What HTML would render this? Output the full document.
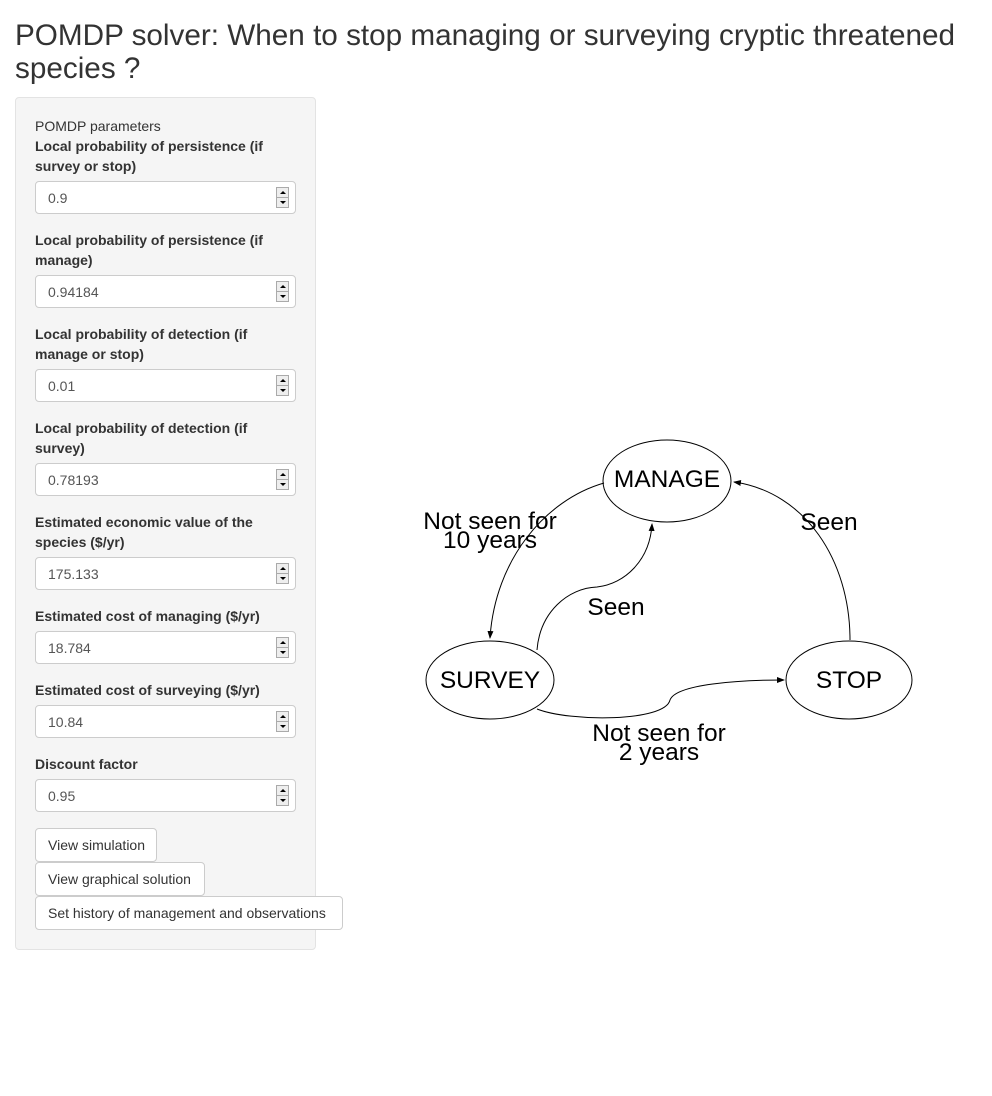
<!DOCTYPE html>
<html><head><meta charset="utf-8"><style>
body{margin:0;width:992px;height:1096px;background:#fff;font-family:"Liberation Sans",Arial,sans-serif;color:#333;position:relative;overflow:hidden}
.t{position:absolute;left:15px;top:19px;font-size:29.7px;line-height:33px;color:#333;width:975px;white-space:nowrap}
.panel{position:absolute;left:15px;top:97px;width:301px;height:853px;background:#f5f5f5;border:1px solid #e3e3e3;border-radius:4px;box-sizing:border-box}
.a{position:absolute;left:35px;font-size:14px;line-height:20px;color:#333}
.lb{position:absolute;left:35px;font-size:14px;font-weight:bold;line-height:20px;color:#333;white-space:nowrap}
.in{position:absolute;left:35px;width:261px;height:33px;background:#fff;border:1px solid #ccc;border-radius:4px;box-sizing:border-box;font-size:14px;color:#555;padding:8px 12px;line-height:16px}
.sp{position:absolute;right:6px;top:5px;width:13px;height:21px;border:1px solid #aaa;background:#eee;box-sizing:border-box}
.sp:before{content:"";position:absolute;left:3px;top:3px;border:3px solid transparent;border-bottom:3px solid #000;border-top:0}
.sp:after{content:"";position:absolute;left:3px;top:13px;border:3px solid transparent;border-top:3px solid #000;border-bottom:0}
.sp i{position:absolute;left:0;right:0;top:9px;border-top:1px solid #aaa}
.b{position:absolute;left:35px;height:34px;background:#fff;border:1px solid #ccc;border-radius:4px;box-sizing:border-box;font-size:14px;color:#333;padding:0 12px;line-height:32px;white-space:nowrap}
</style></head><body>
<div class="t">POMDP solver: When to stop managing or surveying cryptic threatened<br>species ?</div>
<div class="panel"></div>
<div class="a" style="top:116px">POMDP parameters</div>
<div class="lb" style="top:136px">Local probability of persistence (if<br>survey or stop)</div>
<div class="in" style="top:181px">0.9<div class="sp"><i></i></div></div>
<div class="lb" style="top:230px">Local probability of persistence (if<br>manage)</div>
<div class="in" style="top:275px">0.94184<div class="sp"><i></i></div></div>
<div class="lb" style="top:324px">Local probability of detection (if<br>manage or stop)</div>
<div class="in" style="top:369px">0.01<div class="sp"><i></i></div></div>
<div class="lb" style="top:418px">Local probability of detection (if<br>survey)</div>
<div class="in" style="top:463px">0.78193<div class="sp"><i></i></div></div>
<div class="lb" style="top:512px">Estimated economic value of the<br>species ($/yr)</div>
<div class="in" style="top:557px">175.133<div class="sp"><i></i></div></div>
<div class="lb" style="top:606px">Estimated cost of managing ($/yr)</div>
<div class="in" style="top:631px">18.784<div class="sp"><i></i></div></div>
<div class="lb" style="top:680px">Estimated cost of surveying ($/yr)</div>
<div class="in" style="top:705px">10.84<div class="sp"><i></i></div></div>
<div class="lb" style="top:754px">Discount factor</div>
<div class="in" style="top:779px">0.95<div class="sp"><i></i></div></div>
<div class="b" style="top:828px;width:122px">View simulation</div>
<div class="b" style="top:862px;width:170px">View graphical solution</div>
<div class="b" style="top:896px;width:308px">Set history of management and observations</div>
<svg width="992" height="1096" style="position:absolute;left:0;top:0" font-family="Liberation Sans, Arial, sans-serif">
<defs><marker id="m" markerWidth="8" markerHeight="6" refX="7" refY="3" orient="auto" markerUnits="userSpaceOnUse"><path d="M0,0L8,3L0,6z" fill="#000"/></marker></defs>
<g fill="none" stroke="#000" stroke-width="1">
<ellipse cx="667" cy="481" rx="64" ry="41"/>
<ellipse cx="490" cy="680" rx="64" ry="39"/>
<ellipse cx="849" cy="680" rx="63" ry="39"/>
<path d="M604,483 C545,500 495,560 490,638" marker-end="url(#m)"/>
<path d="M537,650 C540,612 568,588 597,587 C625,584 650,560 652,524" marker-end="url(#m)"/>
<path d="M850,640 C850,560 805,492 734,482" marker-end="url(#m)"/>
<path d="M537,709 C570,722 665,722 670,700 C676,684 740,680 784,680" marker-end="url(#m)"/>
</g>
<g font-size="24.5" fill="#000" text-anchor="middle">
<text x="667" y="487">MANAGE</text>
<text x="490" y="688">SURVEY</text>
<text x="849" y="688">STOP</text>
<text x="490" y="529">Not seen for</text>
<text x="490" y="548">10 years</text>
<text x="616" y="615">Seen</text>
<text x="829" y="530">Seen</text>
<text x="659" y="741">Not seen for</text>
<text x="659" y="760">2 years</text>
</g>
</svg>
</body></html>
